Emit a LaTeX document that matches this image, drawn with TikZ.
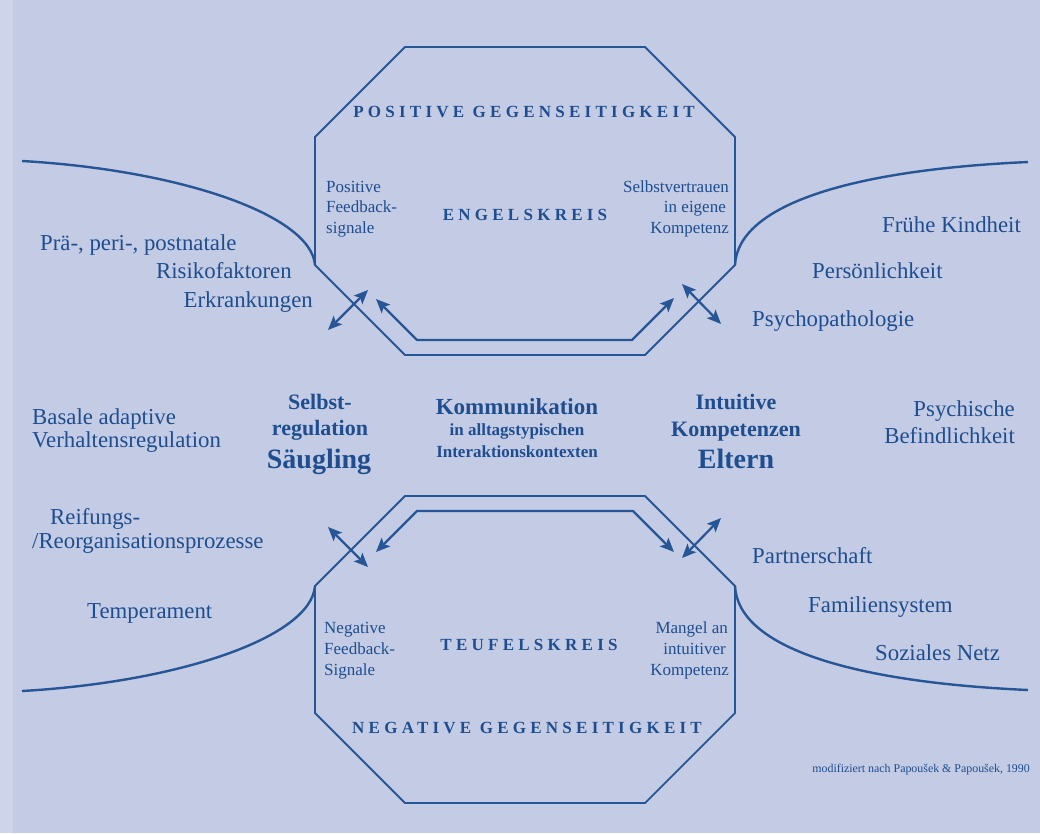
\documentclass[tikz,border=0pt]{standalone}
\usepackage{fontspec}
\setmainfont{Liberation Serif}
\newfontfamily\spacedfont[LetterSpace=25]{Liberation Serif}
\usetikzlibrary{arrows.meta}
\definecolor{bgc}{RGB}{196,203,228}
\definecolor{stripc}{RGB}{206,212,234}
\definecolor{ink}{RGB}{30,78,143}
\definecolor{linec}{RGB}{38,86,150}
\begin{document}
\begin{tikzpicture}[x=1pt,y=-1pt,
  plainlbl/.style={text=ink, font=\fontsize{22.8}{27}\selectfont, inner sep=0pt},
  smalllbl/.style={text=ink, font=\fontsize{17}{20}\selectfont, inner sep=0pt},
  boldlbl/.style={text=ink, font=\fontsize{22}{26}\selectfont\bfseries, inner sep=0pt},
  kommlbl/.style={text=ink, font=\fontsize{23}{27}\selectfont\bfseries, inner sep=0pt},
  medlbl/.style={text=ink, font=\fontsize{17}{20}\selectfont\bfseries, inner sep=0pt},
  biglbl/.style={text=ink, font=\fontsize{28}{32}\selectfont\bfseries, inner sep=0pt},
  capslbl/.style={text=ink, font=\fontsize{17}{20}\spacedfont\bfseries, inner sep=0pt},
  creditlbl/.style={text=ink, font=\fontsize{11.9}{14}\selectfont, inner sep=0pt},
  octline/.style={draw=linec, line width=1.8pt, line join=miter},
  curveline/.style={draw=linec, line width=2.4pt},
  flowline/.style={draw=linec, line width=2.4pt, {Stealth[length=14pt,width=12pt,inset=3pt]}-{Stealth[length=14pt,width=12pt,inset=3pt]}},
  dblarrow/.style={draw=linec, line width=2.2pt, {Stealth[length=14pt,width=12pt,inset=3pt]}-{Stealth[length=14pt,width=12pt,inset=3pt]}}
]
\useasboundingbox (0,0) rectangle (1040,833);
\fill[bgc] (0,0) rectangle (1040,833);
\fill[stripc] (0,0) rectangle (13,833);

% ---------- upper octagon ----------
\coordinate (u1) at (405,47);
\coordinate (u2) at (645,47);
\coordinate (u3) at (735,137);
\coordinate (u4) at (735,265);
\coordinate (u5) at (645,355);
\coordinate (u6) at (405,355);
\coordinate (u7) at (315,265);
\coordinate (u8) at (315,137);
\draw[octline] (u1) -- (u2) -- (u3) -- (u4) -- (u5) -- (u6) -- (u7) -- (u8) -- cycle;

% ---------- lower octagon ----------
\coordinate (l1) at (405,496);
\coordinate (l2) at (645,496);
\coordinate (l3) at (735,586);
\coordinate (l4) at (735,713);
\coordinate (l5) at (645,803);
\coordinate (l6) at (405,803);
\coordinate (l7) at (315,713);
\coordinate (l8) at (315,586);
\draw[octline] (l1) -- (l2) -- (l3) -- (l4) -- (l5) -- (l6) -- (l7) -- (l8) -- cycle;

% ---------- side curves ----------
\coordinate (ulend) at (22,161);
\coordinate (urend) at (1028,162);
\coordinate (llend) at (22,691);
\coordinate (lrend) at (1028,690);
\draw[curveline] (ulend) .. controls (180,170) and (311,215) .. (u7);
\draw[curveline] (u4) .. controls (738,205) and (850,170) .. (urend);
\draw[curveline] (llend) .. controls (180,682) and (311,637) .. (l8);
\draw[curveline] (l3) .. controls (738,647) and (850,682) .. (lrend);

% ---------- inner flow lines ----------
\coordinate (utl) at (376,299);
\coordinate (ucl) at (417,340);
\coordinate (ucr) at (632,340);
\coordinate (utr) at (674,298);
\draw[flowline] (utl) -- (ucl) -- (ucr) -- (utr);
\coordinate (ltl) at (376,552);
\coordinate (lcl) at (417,511);
\coordinate (lcr) at (633,511);
\coordinate (ltr) at (674,552);
\draw[flowline] (ltl) -- (lcl) -- (lcr) -- (ltr);

% ---------- cross arrows ----------
\coordinate (xa1) at (328,330); \coordinate (xa2) at (368,290);
\coordinate (xb1) at (682,284); \coordinate (xb2) at (721,324);
\coordinate (xc1) at (328,527); \coordinate (xc2) at (368,567);
\coordinate (xd1) at (682,558); \coordinate (xd2) at (721,518);
\draw[dblarrow] (xa1) -- (xa2);
\draw[dblarrow] (xb1) -- (xb2);
\draw[dblarrow] (xc1) -- (xc2);
\draw[dblarrow] (xd1) -- (xd2);

% ---------- titles inside octagons ----------
\node[capslbl, anchor=base] (posg) at (524,117) {POSITIVE GEGENSEITIGKEIT};
\node[capslbl, anchor=base] (engel) at (525,220) {ENGELSKREIS};
\node[capslbl, anchor=base] (teufel) at (529,650) {TEUFELSKREIS};
\node[capslbl, anchor=base] (negg) at (527,733) {NEGATIVE GEGENSEITIGKEIT};

% ---------- small labels ----------
\node[smalllbl, anchor=base west] (pf1) at (326,192) {Positive};
\node[smalllbl, anchor=base west] (pf2) at (326,212) {Feedback-};
\node[smalllbl, anchor=base west] (pf3) at (326,233) {signale};
\node[smalllbl, anchor=base east] (sv1) at (729,192) {Selbstvertrauen};
\node[smalllbl, anchor=base east] (sv2) at (726,212) {in eigene};
\node[smalllbl, anchor=base east] (sv3) at (729,233) {Kompetenz};
\node[smalllbl, anchor=base west] (nf1) at (324,633) {Negative};
\node[smalllbl, anchor=base west] (nf2) at (324,654) {Feedback-};
\node[smalllbl, anchor=base west] (nf3) at (324,675) {Signale};
\node[smalllbl, anchor=base east] (mi1) at (728,633) {Mangel an};
\node[smalllbl, anchor=base east] (mi2) at (726,654) {intuitiver};
\node[smalllbl, anchor=base east] (mi3) at (729,675) {Kompetenz};

% ---------- left labels ----------
\node[plainlbl, anchor=base west] (prae) at (40,250) {Prä-, peri-, postnatale};
\node[plainlbl, anchor=base west] (risiko) at (156,278) {Risikofaktoren};
\node[plainlbl, anchor=base east] (erkr) at (313,307) {Erkrankungen};
\node[plainlbl, anchor=base west] (basale) at (32,424) {Basale adaptive};
\node[plainlbl, anchor=base west] (verh) at (32,447) {Verhaltensregulation};
\node[plainlbl, anchor=base west] (reif) at (50,524) {Reifungs-};
\node[plainlbl, anchor=base west] (reorg) at (32,548) {/Reorganisationsprozesse};
\node[plainlbl, anchor=base west] (temp) at (87,618) {Temperament};

% ---------- right labels ----------
\node[plainlbl, anchor=base west] (fruehe) at (882,232) {Frühe Kindheit};
\node[plainlbl, anchor=base west] (pers) at (812,278) {Persönlichkeit};
\node[plainlbl, anchor=base west] (psycho) at (752,326) {Psychopathologie};
\node[plainlbl, anchor=base east] (psych) at (1015,416) {Psychische};
\node[plainlbl, anchor=base east] (befind) at (1015,443) {Befindlichkeit};
\node[plainlbl, anchor=base west] (partner) at (752,563) {Partnerschaft};
\node[plainlbl, anchor=base west] (familie) at (808,612) {Familiensystem};
\node[plainlbl, anchor=base west] (sozial) at (875,660) {Soziales Netz};

% ---------- central labels ----------
\node[boldlbl, anchor=base] (selbst) at (320,409) {Selbst-};
\node[boldlbl, anchor=base] (regul) at (320,435) {regulation};
\node[biglbl, anchor=base] (saeug) at (319,468) {Säugling};
\node[kommlbl, anchor=base] (komm) at (517,414) {Kommunikation};
\node[medlbl, anchor=base] (alltag) at (517,435) {in alltagstypischen};
\node[medlbl, anchor=base] (interakt) at (517,457) {Interaktionskontexten};
\node[boldlbl, anchor=base] (intuit) at (736,409) {Intuitive};
\node[boldlbl, anchor=base] (kompz) at (736,436) {Kompetenzen};
\node[biglbl, anchor=base] (eltern) at (736,468) {Eltern};

% ---------- credit ----------
\node[creditlbl, anchor=base east] (credit) at (1030,772) {modifiziert nach Papoušek \& Papoušek, 1990};
\end{tikzpicture}
\end{document}
